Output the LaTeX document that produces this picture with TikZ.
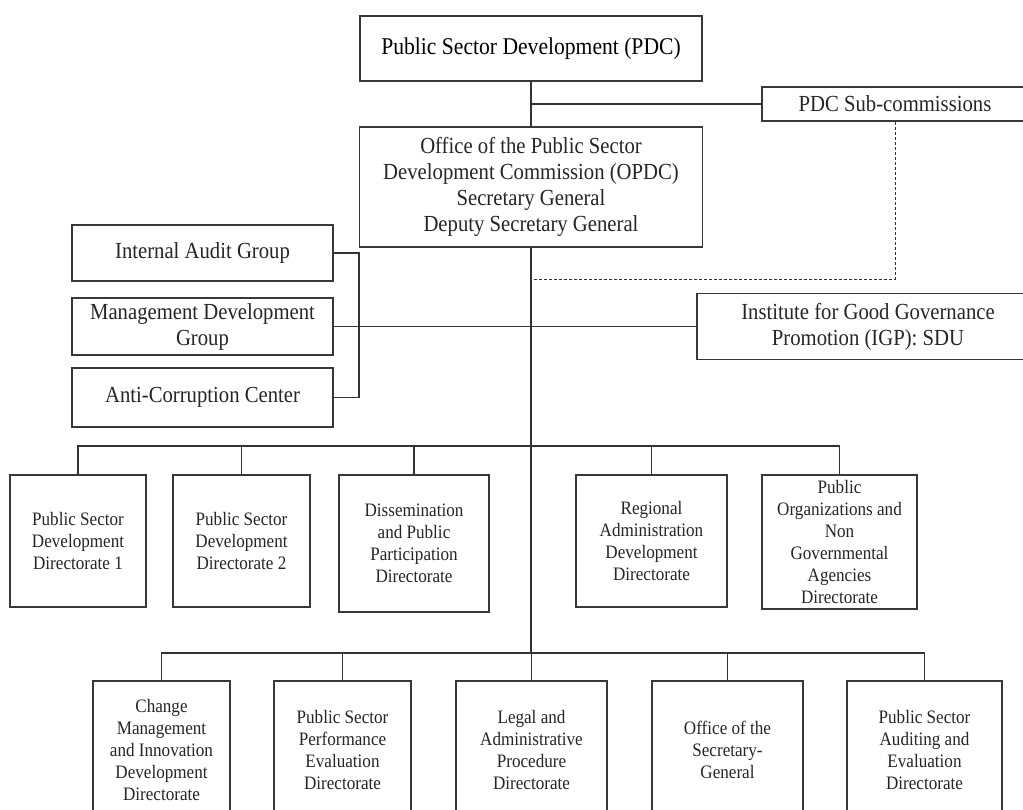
\documentclass[tikz,border=0pt]{standalone}
\usepackage{fontspec}
\setmainfont{Liberation Serif}[FakeStretch=0.9]
\begin{document}
\begin{tikzpicture}[x=1pt,y=-1pt,
  line width=1.5pt, draw=black!80,
  box/.style={draw=black!78, line width=1.7pt, rectangle, inner sep=0pt,
    align=center, text=black!85},
  topfont/.style={font=\fontsize{24}{27}\selectfont, text=black},
  midfont/.style={font=\fontsize{23}{26}\selectfont},
  lowfont/.style={font=\fontsize{19}{22}\selectfont},
  link/.style={draw=black!80, line width=1.5pt}]
\useasboundingbox (0,0) rectangle (1023,809);
\clip (0,0) rectangle (1023,809);
\fill[white] (0,0) rectangle (1023,809);

% head of the organisation
\node[box, topfont, minimum width=342, minimum height=65] (pdc) at (531,48.5)
  {Public Sector Development (PDC)};
\node[box, midfont, minimum width=266, minimum height=34] (sub) at (895,104)
  {PDC Sub-commissions};
\node[box, midfont, minimum width=343, minimum height=120] (opdc) at (531,187)
  {Office of the Public Sector\\Development Commission (OPDC)\\Secretary General\\Deputy Secretary General};

% staff groups on the left and the institute on the right
\node[box, midfont, minimum width=261, minimum height=56] (iag) at (202.5,253)
  {Internal Audit Group};
\node[box, midfont, minimum width=261, minimum height=57] (mdg) at (202.5,326.5)
  {Management Development\\Group};
\node[box, midfont, minimum width=261, minimum height=59] (acc) at (202.5,397.5)
  {Anti-Corruption Center};
\node[box, midfont, minimum width=342, minimum height=66] (igp) at (868,326.5)
  {Institute for Good Governance\\Promotion (IGP): SDU};

% first row of directorates
\node[box, lowfont, minimum width=136, minimum height=132] (d1) at (78,541)
  {Public Sector\\Development\\Directorate 1};
\node[box, lowfont, minimum width=137, minimum height=132] (d2) at (241.5,541)
  {Public Sector\\Development\\Directorate 2};
\node[box, lowfont, minimum width=150, minimum height=137] (d3) at (414,543.5)
  {Dissemination\\and Public\\Participation\\Directorate};
\node[box, lowfont, minimum width=151, minimum height=132] (d4) at (651.5,541)
  {Regional\\Administration\\Development\\Directorate};
\node[box, lowfont, minimum width=155, minimum height=134] (d5) at (839.5,542)
  {Public\\Organizations and\\Non\\Governmental\\Agencies\\Directorate};

% second row of directorates
\node[box, lowfont, minimum width=137, minimum height=138] (e1) at (161.5,750)
  {Change\\Management\\and Innovation\\Development\\Directorate};
\node[box, lowfont, minimum width=137, minimum height=138] (e2) at (342.5,750)
  {Public Sector\\Performance\\Evaluation\\Directorate};
\node[box, lowfont, minimum width=151, minimum height=138] (e3) at (531.5,750)
  {Legal and\\Administrative\\Procedure\\Directorate};
\node[box, lowfont, minimum width=151, minimum height=138] (e4) at (727.5,750)
  {Office of the\\Secretary-\\General};
\node[box, lowfont, minimum width=155, minimum height=138] (e5) at (924.5,750)
  {Public Sector\\Auditing and\\Evaluation\\Directorate};

% junction points
\coordinate (dashend) at (531,279);
\coordinate (bk) at (359,326.5);
\coordinate (bus1) at (531,446);
\coordinate (bus2) at (531,653);

% connectors
\draw[link] (pdc.south) -- (opdc.north);
\draw[link] (sub.west) -- (sub.west -| pdc.south);
\draw[link, line width=1pt, dash pattern=on 3pt off 2pt] (sub.south) |- (dashend);
\draw[link] (opdc.south) -- (bus2);
\draw[link] (iag.east) -| (bk) |- (acc.east);
\draw[link] (mdg.east) -- (igp.west);
\foreach \n in {d1,d2,d3,d4,d5} \draw[link] (\n.north) |- (bus1);
\foreach \n in {e1,e2,e3,e4,e5} \draw[link] (\n.north) |- (bus2);
\end{tikzpicture}
\end{document}
